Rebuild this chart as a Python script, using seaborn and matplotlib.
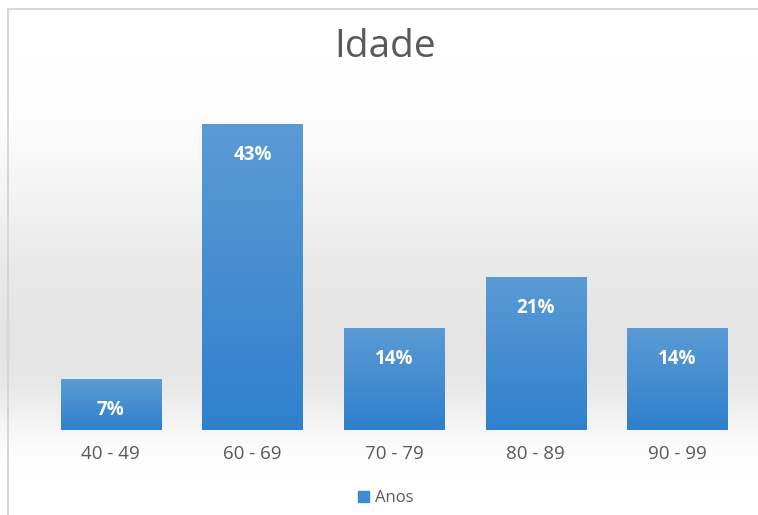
import numpy as np
import matplotlib
matplotlib.use("Agg")
import matplotlib.pyplot as plt
import seaborn as sns
import pandas as pd
from matplotlib.patches import Rectangle
from matplotlib.colors import LinearSegmentedColormap

categories = ["40 - 49", "60 - 69", "70 - 79", "80 - 89", "90 - 99"]
values = [7.14, 42.86, 14.29, 21.43, 14.29]
labels = ["7%", "43%", "14%", "21%", "14%"]
series_name = "Anos"
title = "Idade"

sns.set_theme(style="white")
plt.rcParams['font.family'] = ['Open Sans', 'DejaVu Sans']

W, H = 758, 515
fig = plt.figure(figsize=(W / 100, H / 100), dpi=100)

# background gradient
bg = fig.add_axes([0, 0, 1, 1], zorder=0)
bg.set_axis_off()
px = np.linspace(0, H, 600)
def smooth(t):
    t = np.clip(t, 0, 1)
    return 0.5 - 0.5 * np.cos(np.pi * t)
dark = 0.105
g = np.where(px < 350, smooth((px - 60) / 290) * dark, (1 - smooth((px - 350) / 130)) * dark)
col = 1 - g
img = np.repeat(col[:, None], 2, axis=1)
bg.imshow(np.dstack([img, img, img]), aspect='auto', extent=[0, 1, 0, 1], origin='upper')
bg.set_xlim(0, 1); bg.set_ylim(0, 1)
bg.add_patch(Rectangle((8 / W, -0.01), 1.1, 1 - 9 / H + 0.01, fill=False,
                       edgecolor="#d4d4d4", lw=1.3, transform=bg.transAxes))

ax = fig.add_axes([40 / W, (H - 430) / H, 708 / W, 357 / H], zorder=1)
ax.patch.set_alpha(0)
df = pd.DataFrame({"cat": categories, "val": values})
sns.barplot(data=df, x="cat", y="val", color="#3d8bd3", width=0.707, ax=ax,
            saturation=1, label=series_name)
for s in ax.spines.values():
    s.set_visible(False)
ax.set_yticks([])
ax.set_xlabel("")
ax.set_ylabel("")
ax.tick_params(axis='x', length=0, pad=11, labelsize=13.5, labelcolor="#595959")

cmap = LinearSegmentedColormap.from_list("b", ["#5b9bd5", "#2f80cc"])
grad = np.linspace(0, 1, 256)[:, None]
for p, lab in zip(ax.patches, labels):
    x0, y0 = p.get_x(), p.get_y()
    w, h = p.get_width(), p.get_height()
    im = ax.imshow(grad, cmap=cmap, aspect='auto', extent=[x0, x0 + w, y0, y0 + h],
                   origin='upper', zorder=2)
    im.set_clip_path(p)
    p.set_edgecolor("#7fb0de")
    p.set_linewidth(0.6)
    ax.annotate(lab, (x0 + w / 2, y0 + h), xytext=(0, -15), textcoords="offset points",
                ha="center", va="top", color="white", fontsize=13.5, fontweight="bold",
                zorder=3)
ax.set_xlim(-0.5, len(categories) - 0.5)
ax.set_ylim(0, 50)

fig.text(385 / W, 1 - 47 / H, title, ha="center", va="center", fontsize=28, color="#595959")

# legend
ax.legend(handles=[Rectangle((0, 0), 1, 1, color="#3d8bd3")], labels=[series_name],
          loc="center", bbox_to_anchor=(386 / W, 1 - 498 / H), bbox_transform=fig.transFigure,
          frameon=False, fontsize=12, handlelength=0.65, handleheight=0.65,
          handletextpad=0.35, labelcolor="#595959")

fig.savefig("out.png", dpi=100)
